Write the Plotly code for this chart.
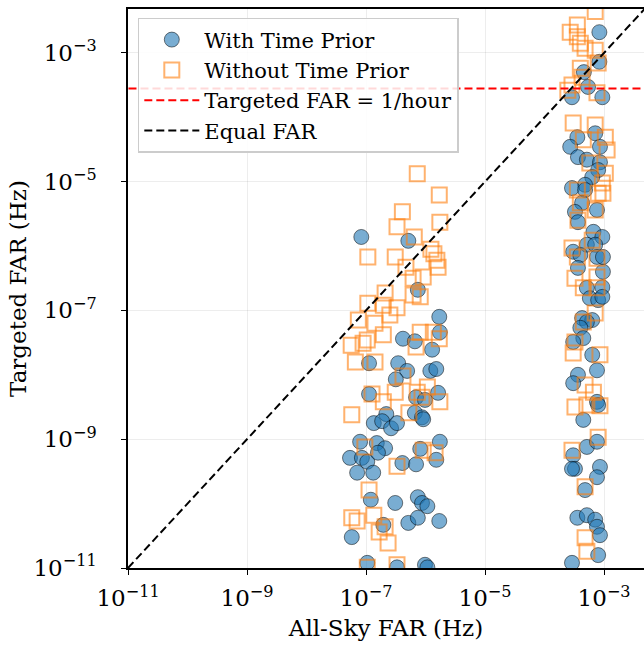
import numpy as np
import plotly.graph_objects as go

# log10 values
with_prior_allsky_log10 = [
    -7.08, -6.29, -6.13, -5.77, -6.38, -6.18, -5.76, -5.89, -6.95, -6.46, -6.31, -6.50, -5.92, -5.82,
    -6.95, -6.16, -6.01, -5.79, -6.18, -6.06, -6.04, -6.66, -6.87, -6.73, -6.58, -6.48, -7.10, -6.82,
    -6.68, -7.27, -7.07, -6.98, -6.80, -7.15, -6.88, -6.39, -6.16, -6.09, -5.82, -5.76, -6.92, -6.51,
    -6.13, -6.06, -5.97, -6.71, -6.29, -6.13, -5.77, -7.24, -6.98, -6.48, -6.01, -5.97,
    -3.08, -3.08, -3.34, -3.27, -3.54, -3.03, -3.15, -3.45, -3.57, -3.07, -3.44, -3.29, -3.07, -3.10,
    -3.20, -3.32, -3.54, -3.32, -3.37, -3.49, -3.12, -3.44, -3.18, -3.03, -3.29, -3.15, -3.52, -3.40,
    -3.12, -3.02, -3.44, -3.02, -3.29, -3.03, -3.24, -3.10, -3.03, -3.37, -3.20, -3.29, -3.40, -3.35,
    -3.52, -3.20, -3.12, -3.44, -3.52, -3.12, -3.10, -3.35, -3.29, -3.12, -3.52, -3.49, -3.54, -3.07,
    -3.12, -3.32, -3.45, -3.29, -3.15, -3.12, -3.07, -3.10, -3.54,
]
with_prior_targeted_log10 = [
    -5.86, -5.92, -6.68, -7.10, -7.44, -7.48, -7.34, -7.61, -7.82, -7.82, -7.94, -8.07, -7.94, -7.91,
    -8.30, -8.35, -8.39, -8.28, -8.59, -8.66, -8.69, -8.61, -8.75, -8.72, -8.83, -8.75, -9.04, -9.06,
    -9.14, -9.29, -9.29, -9.35, -9.21, -9.52, -9.52, -9.37, -9.39, -9.15, -9.32, -9.04, -9.94, -9.99,
    -9.90, -9.99, -10.04, -10.33, -10.30, -10.22, -10.27, -10.52, -10.92, -10.99, -10.95, -10.99,
    -2.68, -3.14, -3.30, -3.53, -3.69, -3.69, -4.25, -4.31, -4.46, -4.46, -4.62, -4.66, -4.70, -4.82,
    -4.93, -5.05, -5.10, -5.13, -5.33, -5.47, -5.44, -5.63, -5.78, -5.86, -5.98, -5.98, -6.09, -6.14,
    -6.17, -6.17, -6.34, -6.40, -6.65, -6.64, -6.81, -6.84, -6.79, -7.12, -7.15, -7.18, -7.27, -7.43,
    -7.49, -7.69, -7.93, -8.00, -8.13, -8.42, -8.47, -8.70, -9.12, -9.04, -9.25, -9.46, -9.46, -9.43,
    -9.59, -9.79, -10.22, -10.18, -10.25, -10.36, -10.49, -10.80, -10.92,
]
without_prior_allsky_log10 = [
    -6.14, -5.77, -6.39, -6.48, -6.19, -5.76, -6.97, -6.51, -6.33, -5.91, -5.86, -5.81, -5.79, -6.21,
    -6.04, -6.21, -6.09, -6.68, -6.97, -6.48, -6.71, -6.60, -7.13, -6.85, -6.71, -6.98, -7.25, -7.05,
    -6.16, -5.87, -5.77, -6.09, -7.18, -6.85, -6.38, -5.97, -6.51, -6.90, -6.71, -6.14, -6.06, -5.76,
    -6.28, -7.24, -7.02, -6.04, -5.84, -6.48, -6.95, -7.24, -7.15, -6.87, -6.78, -6.68, -6.63, -6.48,
    -6.98,
    -3.15, -3.57, -3.45, -3.45, -3.40, -3.32, -3.15, -3.10, -3.40, -3.37, -3.54, -3.61, -3.12, -3.52,
    -3.15, -2.98, -3.35, -2.95, -3.24, -2.98, -3.03, -3.45, -3.10, -3.02, -3.40, -3.15, -3.44, -3.20,
    -3.54, -3.45, -3.12, -3.49, -3.12, -3.35, -3.12, -3.15, -3.35, -3.49, -3.52, -3.07, -3.32, -3.18,
    -3.49, -3.29, -3.07, -3.10, -3.54, -3.32, -3.32, -3.29,
]
without_prior_targeted_log10 = [
    -4.88, -5.21, -5.47, -5.70, -5.86, -5.63, -6.17, -6.17, -6.33, -6.05, -6.12, -6.22, -6.33, -6.50,
    -6.48, -6.76, -6.79, -6.73, -6.89, -6.96, -6.92, -7.07, -7.15, -7.20, -7.38, -7.46, -7.54, -7.51,
    -7.57, -7.34, -7.44, -7.34, -7.80, -7.80, -8.02, -8.19, -8.27, -8.30, -8.42, -8.27, -8.35, -8.42,
    -8.59, -8.62, -9.12, -9.17, -9.21, -9.42, -9.79, -10.22, -10.27, -10.18, -10.44, -10.36, -10.61, -10.95,
    -10.99,
    -2.36, -2.68, -2.57, -2.75, -2.85, -2.93, -2.96, -3.16, -3.24, -3.38, -3.50, -3.58, -3.62, -4.09,
    -4.12, -4.31, -4.35, -4.51, -4.71, -4.87, -5.02, -5.13, -5.18, -5.18, -5.33, -5.44, -5.60, -5.91,
    -6.03, -6.17, -6.19, -6.50, -6.48, -6.65, -6.65, -7.04, -7.18, -7.49, -7.66, -7.69, -8.16, -8.27,
    -8.50, -8.47, -8.48, -8.97, -9.17, -9.74, -10.53, -10.74,
]

targeted_far = 1.0 / 3600.0
equal_line = [1e-11, 1e-2]
tick_exponents = [-11, -9, -7, -5, -3]
tick_vals = [10.0 ** e for e in tick_exponents]
tick_text = [f"10<sup>\u2212{-e}</sup>" for e in tick_exponents]

FONT = "DejaVu Serif"

fig = go.Figure()
fig.add_trace(go.Scatter(
    x=np.power(10.0, with_prior_allsky_log10), y=np.power(10.0, with_prior_targeted_log10),
    mode="markers", name="With Time Prior",
    marker=dict(symbol="circle", size=15, color="rgba(31,119,180,0.6)",
                line=dict(color="rgba(0,0,0,0.5)", width=1)),
))
fig.add_trace(go.Scatter(
    x=np.power(10.0, without_prior_allsky_log10), y=np.power(10.0, without_prior_targeted_log10),
    mode="markers", name="Without Time Prior",
    marker=dict(symbol="square-open", size=15, color="rgba(255,127,14,0.6)",
                line=dict(color="rgba(255,127,14,0.6)", width=2)),
))
fig.add_trace(go.Scatter(
    x=[1e-12, 1e-1], y=[targeted_far, targeted_far], mode="lines",
    name="Targeted FAR = 1/hour",
    line=dict(color="red", width=2, dash="8px,4px"),
))
fig.add_trace(go.Scatter(
    x=equal_line, y=equal_line, mode="lines", name="Equal FAR",
    line=dict(color="black", width=2, dash="8px,4px"),
))

axis_common = dict(
    type="log", tickmode="array", tickvals=tick_vals, ticktext=tick_text,
    showline=True, linecolor="black", linewidth=1.5,
    ticks="outside", ticklen=5, tickwidth=1.3, tickcolor="black",
    showgrid=True, gridcolor="rgba(0,0,0,0.07)", gridwidth=1,
    zeroline=False, automargin=False,
    tickfont=dict(family=FONT, size=23, color="black"),
)

fig.update_layout(
    width=644, height=646,
    margin=dict(l=128, r=0, t=9, b=78),
    paper_bgcolor="white", plot_bgcolor="white",
    font=dict(family=FONT, size=21, color="black"),
    xaxis=dict(axis_common, range=[-11, -2.33], mirror=True,
               ticklabelstandoff=4,
               title=dict(text="All-Sky FAR (Hz)", font=dict(family=FONT, size=23), standoff=10)),
    yaxis=dict(axis_common, range=[-11, -2.32], ticklabelstandoff=20,
               title=dict(text="Targeted FAR (Hz)", font=dict(family=FONT, size=23), standoff=0)),
    legend=dict(x=0.019, y=0.984, xanchor="left", yanchor="top",
                bgcolor="rgba(255,255,255,0.85)", bordercolor="#cccccc", borderwidth=1.5,
                font=dict(family=FONT, size=21, color="black"), tracegroupgap=0,
                itemwidth=55),
    showlegend=True,
)

fig.write_html(
    "out.html",
    config={"displayModeBar": False},
    post_script="document.body.style.margin='0';document.body.style.overflow='hidden';",
)
